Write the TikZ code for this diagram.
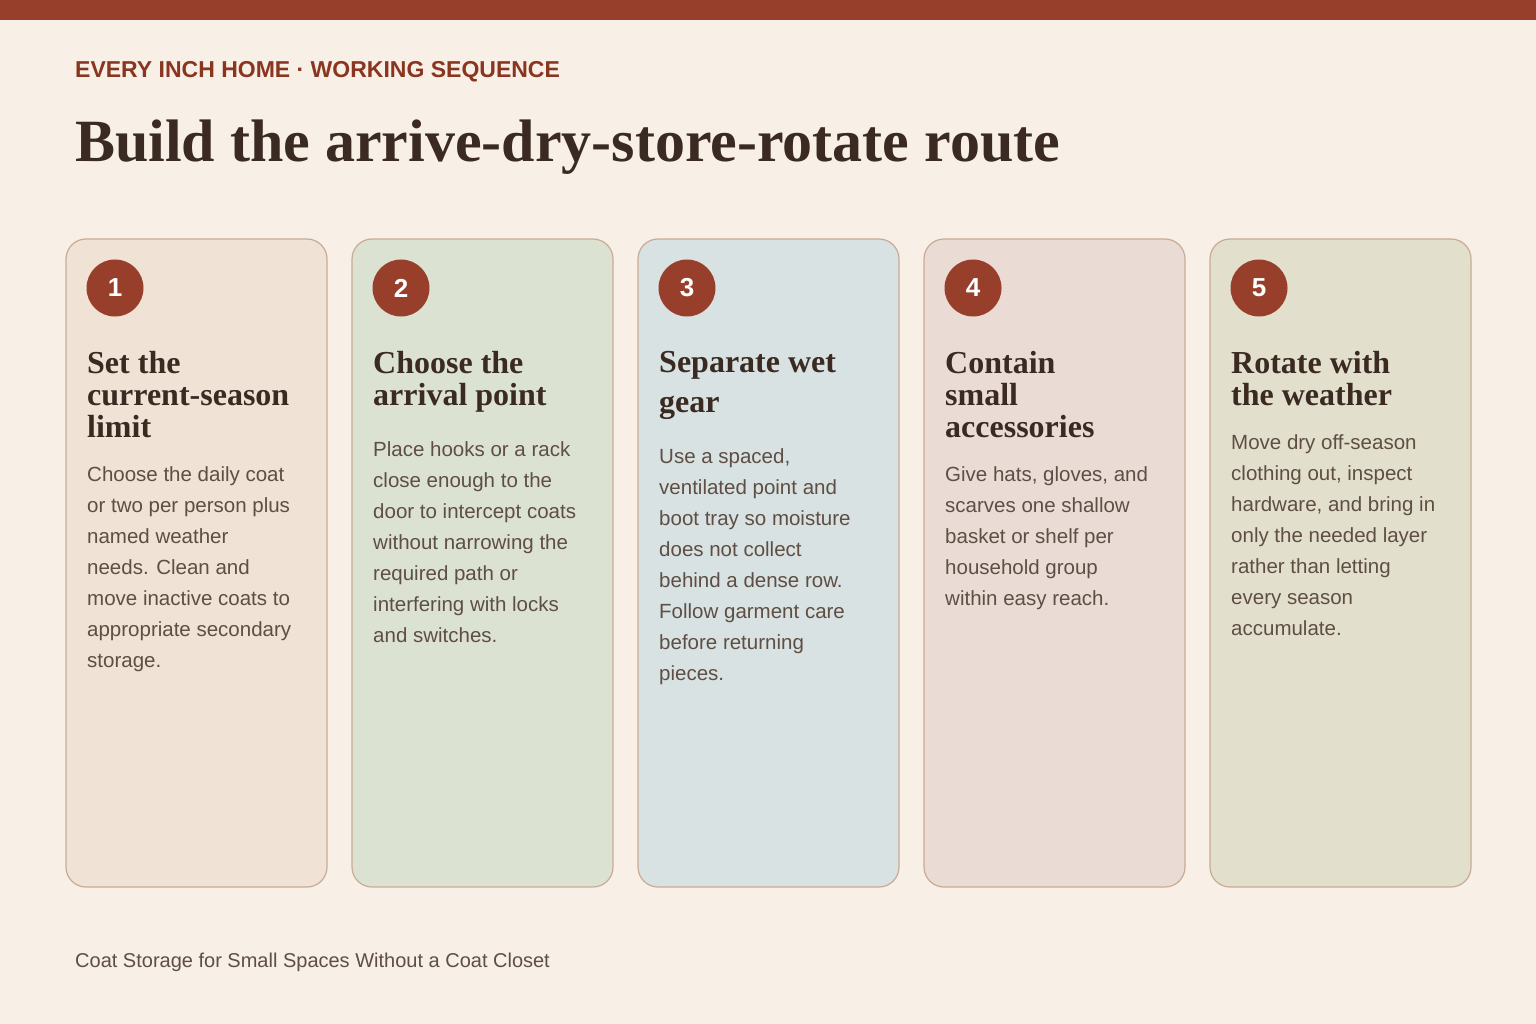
\documentclass[tikz,border=0pt]{standalone}
\usepackage{fontspec}
\setmainfont{Liberation Serif}
\setsansfont{Liberation Sans}
\begin{document}
\begin{tikzpicture}[x=1pt,y=-1pt,
  card/.style={draw=cardline,line width=1.2pt,rounded corners=20pt},
  num/.style={circle,fill=accent,minimum size=57pt,inner sep=0,text=white,font=\sffamily\bfseries\fontsize{26}{26}\selectfont},
  head/.style={anchor=north west,inner sep=0,align=left,text=headc,font=\rmfamily\bfseries\fontsize{32}{32}\selectfont},
  body/.style={anchor=north west,inner sep=0,align=left,text=bodyc,font=\sffamily\fontsize{20.5}{31}\selectfont}]
\definecolor{bg}{HTML}{F8EFE6}
\definecolor{accent}{HTML}{973F2A}
\definecolor{cardline}{HTML}{C9AB95}
\definecolor{headc}{HTML}{3A2A22}
\definecolor{bodyc}{HTML}{5E4E44}
\definecolor{toptext}{HTML}{8A3520}
\definecolor{f1}{HTML}{F0E2D5}
\definecolor{f2}{HTML}{DCE2D1}
\definecolor{f3}{HTML}{D8E2E2}
\definecolor{f4}{HTML}{EADBD4}
\definecolor{f5}{HTML}{E2DFCD}
\useasboundingbox (0,0) rectangle (1536,1024);
\fill[bg] (0,0) rectangle (1536,1024);
\fill[accent] (0,0) rectangle (1536,20);
\node[anchor=west,inner sep=0,text=toptext,font=\sffamily\bfseries\fontsize{23}{23}\selectfont] (kicker) at (75,72) {EVERY INCH HOME · WORKING SEQUENCE};
\node[anchor=base west,inner sep=0,text=headc,font=\rmfamily\bfseries\fontsize{60}{60}\selectfont] (title) at (75,162) {Build the arrive-dry-store-rotate route};
\node[anchor=west,inner sep=0,text=bodyc,font=\sffamily\fontsize{20}{20}\selectfont] (foot) at (75,962) {Coat Storage for Small Spaces Without a Coat Closet};

\path[card,fill=f1] (66,239) rectangle (327,887);
\path[card,fill=f2] (352,239) rectangle (613,887);
\path[card,fill=f3] (638,239) rectangle (899,887);
\path[card,fill=f4] (924,239) rectangle (1185,887);
\path[card,fill=f5] (1210,239) rectangle (1471,887);

\node[num] (n1) at (115,288) {1};
\node[num] (n2) at (401,288) {2};
\node[num] (n3) at (687,288) {3};
\node[num] (n4) at (973,288) {4};
\node[num] (n5) at (1259,288) {5};

\node[head] (h1) at (87,351) {Set the\\current-season\\limit};
\node[head] (h2) at (373,351) {Choose the\\arrival point};
\node[head,font=\rmfamily\bfseries\fontsize{32}{40}\selectfont] (h3) at (659,351) {Separate wet\\gear};
\node[head] (h4) at (945,351) {Contain\\small\\accessories};
\node[head] (h5) at (1231,351) {Rotate with\\the weather};

\node[body] (b1) at (87,466) {Choose the daily coat\\or two per person plus\\named weather\\needs. Clean and\\move inactive coats to\\appropriate secondary\\storage.};
\node[body] (b2) at (373,441) {Place hooks or a rack\\close enough to the\\door to intercept coats\\without narrowing the\\required path or\\interfering with locks\\and switches.};
\node[body] (b3) at (659,448) {Use a spaced,\\ventilated point and\\boot tray so moisture\\does not collect\\behind a dense row.\\Follow garment care\\before returning\\pieces.};
\node[body] (b4) at (945,466) {Give hats, gloves, and\\scarves one shallow\\basket or shelf per\\household group\\within easy reach.};
\node[body] (b5) at (1231,434) {Move dry off-season\\clothing out, inspect\\hardware, and bring in\\only the needed layer\\rather than letting\\every season\\accumulate.};
\end{tikzpicture}
\end{document}
